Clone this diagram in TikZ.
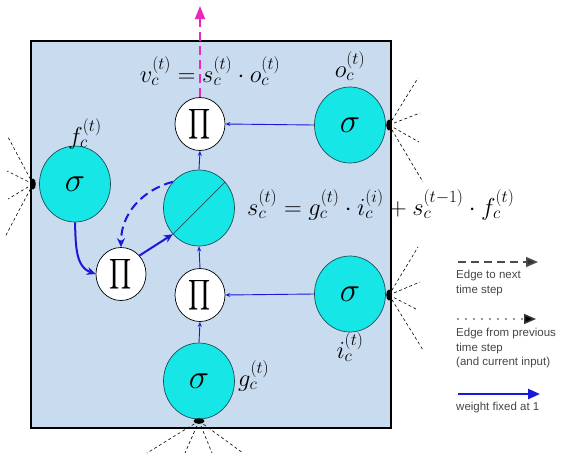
\RequirePackage{fix-cm}
\documentclass[tikz,border=0pt]{standalone}
\usepackage{exscale}
\usepackage{fontspec}
\newfontfamily\legfont{Liberation Sans}
\usetikzlibrary{arrows.meta,shapes.geometric}
\definecolor{bgblue}{RGB}{201,219,239}
\definecolor{cyanfill}{RGB}{22,230,230}
\definecolor{arrblue}{RGB}{25,25,215}
\definecolor{pinkm}{RGB}{235,40,190}
\definecolor{legtext}{RGB}{70,70,70}
\definecolor{rimcol}{RGB}{30,80,90}
\newcommand{\bigprodsym}{\scalebox{1}[1.22]{$\displaystyle\prod$}}
\begin{document}
\begin{tikzpicture}[x=1pt,y=-1pt,
  gate/.style={ellipse,draw=rimcol,line width=0.7pt,fill=cyanfill,minimum width=71pt,minimum height=76pt,inner sep=0pt,font=\fontsize{34}{38}\selectfont},
  prodnode/.style={ellipse,draw=black,line width=0.7pt,fill=white,minimum width=50pt,minimum height=53pt,inner sep=0pt,font=\fontsize{19}{23}\selectfont},
  thinarr/.style={draw=arrblue,line width=0.9pt,-{Stealth[length=5pt,width=4pt]}},
  thickarr/.style={draw=arrblue,line width=2pt,-{Stealth[length=9pt,width=8pt]}},
  fan/.style={draw=black,line width=0.6pt,dash pattern=on 3pt off 2.5pt},
  lbl/.style={inner sep=0pt,font=\fontsize{24.5}{28}\selectfont},
  legtxt/.style={inner sep=0pt,anchor=north west,align=left,text=legtext,font=\legfont\fontsize{11.5}{14.5}\selectfont}]
\useasboundingbox (0,0) rectangle (573,464);
% cell box
\draw[fill=bgblue,draw=black,line width=2pt] (31,41) rectangle (391,428);
% black dots on the edge
\coordinate (dl) at (33,184);
\coordinate (do) at (389,125);
\coordinate (di) at (389,295);
\coordinate (dg) at (199,421);
\coordinate (l1) at (8,137); \coordinate (l2) at (7,171); \coordinate (l3) at (8,199); \coordinate (l4) at (5,237);
\coordinate (o1) at (418,78); \coordinate (o2) at (420,113); \coordinate (o3) at (419,142); \coordinate (o4) at (423,182);
\coordinate (i1) at (418,247); \coordinate (i2) at (420,282); \coordinate (i3) at (418,310); \coordinate (i4) at (423,350);
\coordinate (g1) at (147,453); \coordinate (g2) at (185,453); \coordinate (g3) at (212,453); \coordinate (g4) at (243,453);
\foreach \k in {1,2,3,4}{
  \draw[fan] (dl) -- (l\k);
  \draw[fan] (do) -- (o\k);
  \draw[fan] (di) -- (i\k);
  \draw[fan] (dg) -- (g\k);
}
% nodes
\node[prodnode] (tp) at (200,124) {\bigprodsym};
\node[gate] (s) at (199,208) {};
\draw[rimcol,line width=0.7pt] (s.225) -- (s.45);
\node[prodnode] (mp) at (200,295) {\bigprodsym};
\node[gate] (g) at (199,381) {$\sigma$};
\node[prodnode] (lp) at (121,274) {\bigprodsym};
\node[gate] (f) at (75,184) {$\sigma$};
\node[gate] (o) at (350,125) {$\sigma$};
\node[gate] (i) at (350,294) {$\sigma$};
\fill (dl) ellipse (2.8 and 5.5);
\fill (do) ellipse (2.8 and 5.5);
\fill (di) ellipse (2.8 and 5.5);
\fill (dg) ellipse (5.5 and 2.8);
% labels
\node[lbl] (vl) at (210,71) {$v_c^{(t)} = s_c^{(t)}\cdot o_c^{(t)}$};
\node[lbl] (ol) at (350,66) {$o_c^{(t)}$};
\node[lbl] (fl) at (85,134) {$f_c^{(t)}$};
\node[lbl,anchor=west] (gl) at (238,376) {$g_c^{(t)}$};
\node[lbl] (il) at (350,347) {$i_c^{(t)}$};
\node[lbl,anchor=west] (sl) at (247,205) {$s_c^{(t)} = g_c^{(t)}\cdot i_c^{(i)} + s_c^{(t-1)}\cdot f_c^{(t)}$};
% output
\coordinate (top) at (200,6);
\draw[pinkm,line width=1.6pt,dash pattern=on 9pt off 5pt,-{Triangle[length=13pt,width=10pt]}] (tp.north) -- (top);
% connections
\draw[thinarr] (o.west) -- (tp.east);
\draw[thinarr] (s.north) -- (tp.south);
\draw[thinarr] (mp.north) -- (s.south);
\draw[thinarr] (g.north) -- (mp.south);
\draw[thinarr] (i.west) -- (mp.east);
\draw[thickarr] (f.south) to[out=-88,in=160] (lp.west);
\draw[thickarr] (lp.45) -- (s.225);
\draw[thickarr,dash pattern=on 9pt off 5pt] (s.135) to[out=195,in=90] (lp.north);
% legend
\coordinate (a1) at (458,262); \coordinate (a2) at (538,262);
\coordinate (b1) at (458,319); \coordinate (b2) at (536,319);
\coordinate (c1) at (458,394); \coordinate (c2) at (540,394);
\draw[draw=black!70,line width=1.5pt,dash pattern=on 8pt off 5pt,-{Triangle[length=12pt,width=10pt,fill=black!80]}] (a1) -- (a2);
\draw[draw=black!80,line width=1.6pt,line cap=round,dash pattern=on 0pt off 8pt,-{Triangle[length=12pt,width=10pt,fill=black]}] (b1) -- (b2);
\draw[draw=arrblue,line width=2.5pt,-{Triangle[length=12pt,width=10pt]}] (c1) -- (c2);
\node[legtxt] (t1) at (456,270) {Edge to next\\time step};
\node[legtxt] (t2) at (456,328) {Edge from previous\\time step\\(and current input)};
\node[legtxt] (t3) at (456,402) {weight fixed at 1};
\end{tikzpicture}
\end{document}
